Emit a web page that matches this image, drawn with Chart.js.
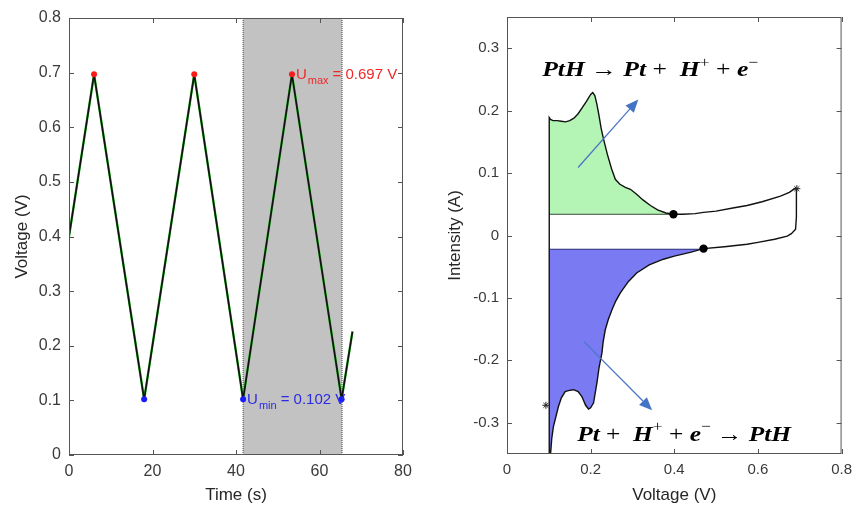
<!DOCTYPE html>
<html>
<head>
<meta charset="utf-8">
<script src="https://cdn.jsdelivr.net/npm/chart.js@4.4.1/dist/chart.umd.min.js"></script>
<style>
  html, body { margin: 0; padding: 0; background: #fff; overflow: hidden; width: 853px; height: 506px; }
  #left { position: absolute; left: 0; top: 0; }
  #right { position: absolute; left: 430px; top: 0; }
</style>
</head>
<body>
<canvas id="left" width="420" height="506"></canvas>
<canvas id="right" width="429" height="506"></canvas>
<script>
// ---- left panel: voltage vs time ----
const timeVertices = [0, 6, 18, 30, 41.7, 53.4, 65.3, 67.9];
const voltVertices = [0.40, 0.697, 0.102, 0.697, 0.102, 0.697, 0.102, 0.226];
const startTimes = [0, 0, 0, 0, 0];
const startVolts = [0, 0.065, null, 0.27, 0.40];
const maxTimes = [6, 30, 53.4];
const maxVolts = [0.697, 0.697, 0.697];
const minTimes = [18, 41.7, 65.3];
const minVolts = [0.102, 0.102, 0.102];
const shadeStart = 41.7;
const shadeEnd = 65.4;
const timeTicks = [0, 20, 40, 60, 80];

// ---- right panel: cyclic voltammogram ----
const anodicV = [0.101, 0.104, 0.11, 0.12, 0.13, 0.14, 0.15, 0.16, 0.17, 0.18, 0.19, 0.2, 0.205, 0.21, 0.215, 0.22, 0.225, 0.231, 0.24, 0.25, 0.259, 0.27, 0.283, 0.295, 0.31, 0.325, 0.343, 0.36, 0.38, 0.398, 0.42, 0.45, 0.47, 0.5, 0.54, 0.574, 0.61, 0.654, 0.675, 0.69, 0.692];
const anodicI = [0.189, 0.186, 0.184, 0.184, 0.183, 0.182, 0.184, 0.188, 0.195, 0.205, 0.215, 0.226, 0.229, 0.224, 0.21, 0.192, 0.172, 0.154, 0.13, 0.107, 0.09, 0.082, 0.077, 0.074, 0.066, 0.057, 0.048, 0.041, 0.036, 0.034, 0.034, 0.035, 0.037, 0.039, 0.044, 0.048, 0.054, 0.063, 0.069, 0.076, 0.074];
const cathodicV = [0.692, 0.692, 0.69, 0.68, 0.67, 0.64, 0.6, 0.574, 0.52, 0.47, 0.438, 0.4, 0.374, 0.34, 0.31, 0.29, 0.271, 0.26, 0.251, 0.242, 0.235, 0.23, 0.227, 0.22, 0.215, 0.207, 0.2, 0.195, 0.188, 0.179, 0.17, 0.159, 0.149, 0.139, 0.13, 0.123, 0.117, 0.111, 0.107, 0.105, 0.104, 0.101];
const cathodicI = [0.06, 0.03, 0.01, 0.003, -0.001, -0.006, -0.011, -0.014, -0.018, -0.021, -0.027, -0.033, -0.038, -0.047, -0.06, -0.074, -0.092, -0.105, -0.119, -0.135, -0.151, -0.17, -0.188, -0.212, -0.236, -0.268, -0.276, -0.278, -0.272, -0.258, -0.25, -0.247, -0.248, -0.25, -0.26, -0.274, -0.29, -0.306, -0.325, -0.343, -0.35, -0.35];
const desorbBase = 0.034;   // baseline of the green (H desorption) area
const desorbEnd = 0.398;
const adsorbBase = -0.022;  // baseline of the blue (H adsorption) area
const adsorbEnd = 0.47;
const dotV = [0.398, 0.47];
const dotI = [0.034, -0.021];
const starV = [0.693, 0.093];
const starI = [0.075, -0.272];
const cvXTicks = [0, 0.2, 0.4, 0.6, 0.8];
const cvYTicks = [-0.3, -0.2, -0.1, 0, 0.1, 0.2, 0.3];

const pts = (xs, ys) => xs.map((x, i) => ({ x: x, y: ys[i] }));

const axisColor = '#555';
const labelColor = '#3a3a3a';
const fmt = v => String(Number(v.toFixed(2)));

// box around the plot with inward tick marks (MATLAB look)
const frame = {
  id: 'frame',
  afterDatasetsDraw(chart) {
    const { ctx, chartArea: a, scales: { x, y } } = chart;
    ctx.save();
    ctx.strokeStyle = axisColor;
    ctx.lineWidth = 1;
    ctx.strokeRect(a.left + 0.5, a.top + 0.5, a.width - 1, a.height - 1);
    ctx.beginPath();
    x.ticks.forEach(t => {
      const px = Math.round(x.getPixelForValue(t.value)) + 0.5;
      ctx.moveTo(px, a.bottom); ctx.lineTo(px, a.bottom - 5);
      ctx.moveTo(px, a.top); ctx.lineTo(px, a.top + 5);
    });
    y.ticks.forEach(t => {
      const py = Math.round(y.getPixelForValue(t.value)) + 0.5;
      ctx.moveTo(a.left, py); ctx.lineTo(a.left + 5, py);
      ctx.moveTo(a.right, py); ctx.lineTo(a.right - 5, py);
    });
    ctx.stroke();
    ctx.restore();
  }
};

const shade = {
  id: 'shade',
  beforeDatasetsDraw(chart) {
    const { ctx, chartArea: a, scales: { x } } = chart;
    const x0 = x.getPixelForValue(shadeStart);
    const x1 = x.getPixelForValue(shadeEnd);
    ctx.save();
    ctx.fillStyle = '#c2c2c2';
    ctx.fillRect(x0, a.top, x1 - x0, a.height);
    ctx.strokeStyle = '#444';
    ctx.setLineDash([1, 1]);
    ctx.beginPath();
    ctx.moveTo(x0, a.top); ctx.lineTo(x0, a.bottom);
    ctx.moveTo(x1, a.top); ctx.lineTo(x1, a.bottom);
    ctx.stroke();
    ctx.restore();
  }
};

function subLabel(ctx, x, y, main, sub, rest, color) {
  ctx.fillStyle = color;
  ctx.textBaseline = 'alphabetic';
  ctx.textAlign = 'left';
  ctx.font = '15px "Liberation Sans", Arial, sans-serif';
  ctx.fillText(main, x, y);
  x += ctx.measureText(main).width + 1;
  ctx.font = '11px "Liberation Sans", Arial, sans-serif';
  ctx.fillText(sub, x, y + 5);
  x += ctx.measureText(sub).width + 4;
  ctx.font = '15px "Liberation Sans", Arial, sans-serif';
  ctx.fillText(rest, x, y);
}

const voltLabels = {
  id: 'voltLabels',
  afterDatasetsDraw(chart) {
    const { ctx, scales: { x, y } } = chart;
    ctx.save();
    subLabel(ctx, x.getPixelForValue(maxTimes[2]) + 4, y.getPixelForValue(maxVolts[2]) + 5,
      'U', 'max', '= 0.697 V', '#f02828');
    subLabel(ctx, x.getPixelForValue(minTimes[1]) + 4, y.getPixelForValue(minVolts[1]) + 5,
      'U', 'min', '= 0.102 V', '#2a2ae6');
    ctx.restore();
  }
};

// equation text, stretched horizontally to the given width
function drawEquation(ctx, x, y, runs, size, width) {
  const fontOf = r => (r.op ? '' : 'italic bold ') + (r.sup ? size * 0.68 : size) + 'px "Liberation Serif", "DejaVu Serif", serif';
  let total = 0;
  runs.forEach(r => { ctx.font = fontOf(r); total += ctx.measureText(r.t).width; });
  ctx.save();
  ctx.translate(x, y);
  ctx.scale(width / total, 1);
  ctx.fillStyle = '#000';
  ctx.textBaseline = 'alphabetic';
  ctx.textAlign = 'left';
  let cx = 0;
  runs.forEach(r => {
    ctx.font = fontOf(r);
    ctx.fillText(r.t, cx, r.sup ? -size * 0.42 : 0);
    cx += ctx.measureText(r.t).width;
  });
  ctx.restore();
}

function drawArrow(ctx, x0, y0, x1, y1) {
  const ang = Math.atan2(y1 - y0, x1 - x0);
  const len = 13, half = 5.5;
  const bx = x1 - len * Math.cos(ang), by = y1 - len * Math.sin(ang);
  ctx.strokeStyle = '#4a76c6';
  ctx.fillStyle = '#4472c4';
  ctx.lineWidth = 1.3;
  ctx.beginPath();
  ctx.moveTo(x0, y0); ctx.lineTo(bx, by);
  ctx.stroke();
  ctx.beginPath();
  ctx.moveTo(x1, y1);
  ctx.lineTo(bx + half * Math.sin(ang), by - half * Math.cos(ang));
  ctx.lineTo(bx - half * Math.sin(ang), by + half * Math.cos(ang));
  ctx.closePath();
  ctx.fill();
}

const cvNotes = {
  id: 'cvNotes',
  afterDatasetsDraw(chart) {
    const { ctx, scales: { x, y } } = chart;
    ctx.save();
    drawArrow(ctx, x.getPixelForValue(0.170), y.getPixelForValue(0.109),
      x.getPixelForValue(0.314), y.getPixelForValue(0.218));
    drawArrow(ctx, x.getPixelForValue(0.184), y.getPixelForValue(-0.170),
      x.getPixelForValue(0.347), y.getPixelForValue(-0.280));
    drawEquation(ctx, x.getPixelForValue(0.084), y.getPixelForValue(0.2548), [
      { t: 'PtH' }, { t: ' \u2192 ', op: true }, { t: 'Pt' }, { t: ' +  ', op: true },
      { t: 'H' }, { t: '+', sup: true, op: true }, { t: ' + ', op: true }, { t: 'e' }, { t: '\u2212', sup: true, op: true }
    ], 22, 216);
    drawEquation(ctx, x.getPixelForValue(0.1677), y.getPixelForValue(-0.3285), [
      { t: 'Pt' }, { t: ' +  ', op: true }, { t: 'H' }, { t: '+', sup: true, op: true },
      { t: ' + ', op: true }, { t: 'e' }, { t: '\u2212', sup: true, op: true }, { t: ' \u2192 ', op: true }, { t: 'PtH' }
    ], 22, 214);
    ctx.restore();
  }
};

function axis(opts) {
  return Object.assign({
    type: 'linear',
    grid: { display: false, drawTicks: false },
    border: { display: false },
  }, opts);
}

const sans = '"Liberation Sans", Arial, sans-serif';

// datasets listed first are drawn on top
new Chart(document.getElementById('left'), {
  type: 'scatter',
  data: {
    datasets: [
      { data: pts(maxTimes, maxVolts), pointRadius: 3, pointBackgroundColor: '#ff1a1a', pointBorderWidth: 0 },
      { data: pts(minTimes, minVolts), pointRadius: 3, pointBackgroundColor: '#1a1aff', pointBorderWidth: 0 },
      { data: pts(timeVertices, voltVertices), showLine: true, borderColor: '#111', borderWidth: 1.7, borderJoinStyle: 'round', pointRadius: 0 },
      { data: pts(timeVertices, voltVertices), showLine: true, borderColor: '#2ecc2e', borderWidth: 2.4, borderJoinStyle: 'round', pointRadius: 0 },
      { data: pts(startTimes, startVolts), showLine: true, borderColor: '#111', borderWidth: 1.5, pointRadius: 0, spanGaps: false }
    ]
  },
  options: {
    responsive: false,
    devicePixelRatio: 1,
    animation: false,
    layout: { padding: { top: 18, right: 17, left: 0, bottom: 0 } },
    plugins: { legend: { display: false }, tooltip: { enabled: false } },
    scales: {
      x: axis({
        min: 0, max: 80,
        afterBuildTicks: s => { s.ticks = timeTicks.map(v => ({ value: v })); },
        afterFit: s => { s.height = 51; },
        ticks: { padding: 7, color: labelColor, font: { family: sans, size: 16 }, callback: fmt },
        title: { display: true, text: 'Time (s)', color: '#262626', padding: { top: 0, bottom: 0 }, font: { family: sans, size: 17 } }
      }),
      y: axis({
        min: 0, max: 0.8,
        ticks: { stepSize: 0.1, padding: 8, color: labelColor, font: { family: sans, size: 16 }, callback: fmt },
        afterFit: s => { s.width = 69; },
        title: { display: true, text: 'Voltage (V)', color: '#262626', padding: { top: 12, bottom: 0 }, font: { family: sans, size: 17 } }
      })
    }
  },
  plugins: [shade, frame, voltLabels]
});

const nDesorb = anodicV.filter(v => v <= desorbEnd).length;
const iAdsorb = cathodicV.indexOf(adsorbEnd);

new Chart(document.getElementById('right'), {
  type: 'scatter',
  data: {
    datasets: [
      { data: pts(dotV, dotI), pointRadius: 4.2, pointBackgroundColor: '#000', pointBorderWidth: 0 },
      { data: pts(starV, starI), pointStyle: 'star', pointRadius: 3.5, pointBorderColor: '#222', pointBorderWidth: 1 },
      // measured curve
      { data: pts([cathodicV[cathodicV.length - 1]].concat(anodicV, cathodicV), [-0.35].concat(anodicI, cathodicI)),
        showLine: true, borderColor: '#111', borderWidth: 1.4, pointRadius: 0 },
      { data: pts([anodicV[0], desorbEnd], [desorbBase, desorbBase]), showLine: true, borderColor: '#3c4a3c', borderWidth: 1, pointRadius: 0 },
      { data: pts([anodicV[0], adsorbEnd], [adsorbBase, adsorbBase]), showLine: true, borderColor: '#2a2a7a', borderWidth: 1.2, pointRadius: 0 },
      // green: hydrogen desorption charge
      { data: pts(anodicV.slice(0, nDesorb), anodicI.slice(0, nDesorb)),
        showLine: true, fill: { value: desorbBase }, backgroundColor: '#b4f4b4', borderWidth: 0, pointRadius: 0 },
      // blue: hydrogen adsorption charge
      { data: pts(cathodicV.slice(iAdsorb), cathodicI.slice(iAdsorb)),
        showLine: true, fill: { value: adsorbBase }, backgroundColor: '#7a7af2', borderWidth: 0, pointRadius: 0 }
    ]
  },
  options: {
    responsive: false,
    devicePixelRatio: 1,
    animation: false,
    layout: { padding: { top: 17, right: 12, left: 0, bottom: 0 } },
    plugins: { legend: { display: false }, tooltip: { enabled: false } },
    scales: {
      x: axis({
        min: 0, max: 0.8,
        afterBuildTicks: s => { s.ticks = cvXTicks.map(v => ({ value: v })); },
        afterFit: s => { s.height = 52; },
        ticks: { padding: 7, color: labelColor, font: { family: sans, size: 15 }, callback: fmt },
        title: { display: true, text: 'Voltage (V)', color: '#262626', padding: { top: 0, bottom: 0 }, font: { family: sans, size: 17 } }
      }),
      y: axis({
        min: -0.35, max: 0.35,
        afterBuildTicks: s => { s.ticks = cvYTicks.map(v => ({ value: v })); },
        afterFit: s => { s.width = 77; },
        ticks: { padding: 8, color: labelColor, font: { family: sans, size: 15 }, callback: fmt },
        title: { display: true, text: 'Intensity (A)', color: '#262626', padding: { top: 15, bottom: 0 }, font: { family: sans, size: 17 } }
      })
    }
  },
  plugins: [frame, cvNotes]
});
</script>
</body>
</html>
